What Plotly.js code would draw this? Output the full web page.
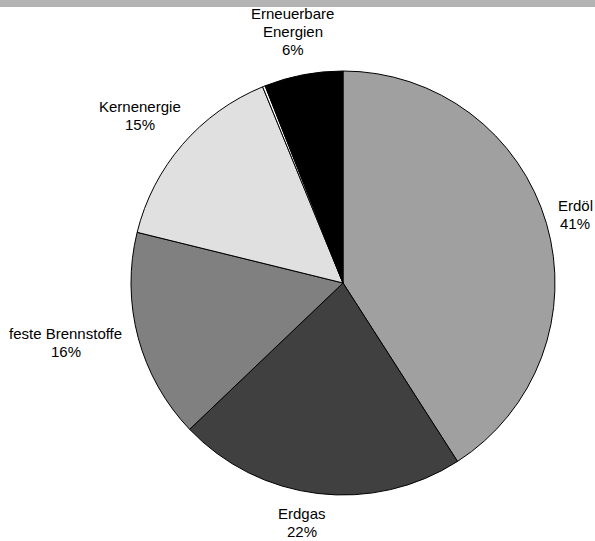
<!DOCTYPE html>
<html>
<head>
<meta charset="utf-8">
<script src="https://cdn.plot.ly/plotly-3.0.1.min.js"></script>
<style>html,body{margin:0;padding:0;background:#fff;}#chart{width:595px;height:541px;}</style>
</head>
<body>
<div id="chart"></div>
<script>
const labels = ["Erdöl", "Erdgas", "feste Brennstoffe", "Kernenergie", "Sonstige", "Erneuerbare Energien"];
const labelText = ["Erdöl", "Erdgas", "feste Brennstoffe", "Kernenergie", "", "Erneuerbare<br>Energien"];
const values = [41, 22, 16, 15, 0.2, 6];
const colors = ["#a0a0a0", "#404040", "#808080", "#e0e0e0", "#ffffff", "#000000"];

const W = 595, H = 541;
const cx = 343, cy = 283, R = 212;
const FONT = "Liberation Sans, Arial, sans-serif";
const FS = 15;
const LH = 18;
const GAP = 11;

const total = values.reduce((a, b) => a + b, 0);

const ctx = document.createElement("canvas").getContext("2d");
ctx.font = FS + "px 'Liberation Sans', Arial, sans-serif";
const clamp = (v, lo, hi) => Math.max(lo, Math.min(hi, v));

const annotations = [];
let cum = 0;
values.forEach((v, i) => {
  const mid = (cum + v / 2) / total * 2 * Math.PI;
  cum += v;
  if (!labelText[i]) return;
  const pct = Math.round(v / total * 100) + "%";
  const lines = labelText[i].split("<br>").concat([pct]);
  const bw = Math.max(...lines.map(s => ctx.measureText(s).width));
  const bh = lines.length * LH;
  const ux = Math.sin(mid), uy = -Math.cos(mid);
  const px = cx + (R + GAP) * ux, py = cy + (R + GAP) * uy;
  const fx = clamp(0.5 - 0.55 * ux + 0.25 * Math.pow(Math.max(uy, 0), 2), -0.05, 1.05);
  const fy = clamp(0.55 - 1.5 * uy * Math.abs(uy), 0, 1.1);
  const left = px - fx * bw, top = py - fy * bh;
  lines.forEach((s, j) => {
    annotations.push({
      xref: "paper", yref: "paper",
      x: (left + bw / 2) / W, y: 1 - (top + LH / 2 + j * LH) / H,
      xanchor: "center", yanchor: "middle",
      text: s,
      showarrow: false, borderpad: 0,
      font: {family: FONT, size: FS, color: "#000"}
    });
  });
});

const trace = {
  type: "pie",
  labels: labels,
  values: values,
  sort: false,
  direction: "clockwise",
  rotation: 0,
  marker: {colors: colors, line: {color: "#000000", width: 1}},
  textinfo: "none",
  showlegend: false,
  hoverinfo: "none",
  domain: {x: [(cx - R) / W, (cx + R) / W], y: [1 - (cy + R) / H, 1 - (cy - R) / H]}
};

const layout = {
  width: W, height: H,
  margin: {l: 0, r: 0, t: 0, b: 0},
  paper_bgcolor: "#ffffff",
  showlegend: false,
  font: {family: FONT, size: FS, color: "#000"},
  annotations: annotations,
  shapes: [{type: "rect", xref: "paper", yref: "paper", x0: 0, x1: 1, y0: 1 - 7 / H, y1: 1, fillcolor: "#b3b3b3", line: {width: 0}, layer: "below"}]
};

Plotly.newPlot("chart", [trace], layout, {displayModeBar: false, staticPlot: true});
</script>
</body>
</html>
